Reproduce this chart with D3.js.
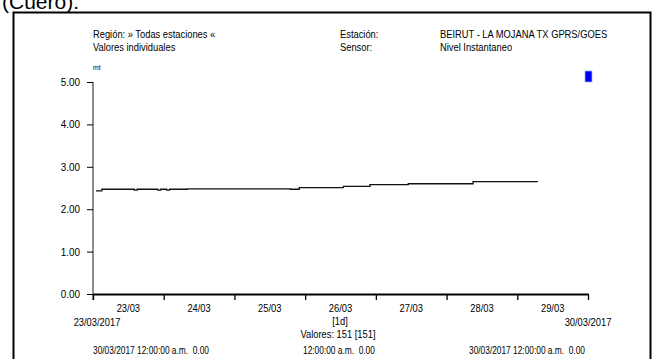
<!DOCTYPE html>
<html><head><meta charset="utf-8">
<script src="https://cdn.jsdelivr.net/npm/d3@7"></script>
<style>
body{margin:0;background:#fff;}
svg{display:block;}
.t{font-family:"Liberation Sans",Arial,sans-serif;font-size:11px;fill:#000;}
</style></head>
<body><svg id="c" width="665" height="359"></svg>
<script>
// ---- data ----
const startDate = "2017-03-23T00:00:00";
const endDate = "2017-03-30T00:00:00";
// hours after start of each recorded change, and the level (mt) from then on
const stepHours = [1, 3, 14, 15, 22, 23, 25, 26, 32, 67, 70, 85, 94, 107, 129, 151];
const stepValues = [2.43, 2.47, 2.45, 2.47, 2.45, 2.47, 2.45, 2.47, 2.48, 2.47, 2.51, 2.54, 2.58, 2.60, 2.65, 2.65];
const yTicks = [0, 1, 2, 3, 4, 5];
const dayLabels = ["23/03", "24/03", "25/03", "26/03", "27/03", "28/03", "29/03"];
const headerLeft = ["Región: » Todas estaciones «", "Valores individuales"];
const headerMid = ["Estación:", "Sensor:"];
const headerRight = ["BEIRUT - LA MOJANA TX GPRS/GOES", "Nivel Instantaneo"];
const unitLabel = "mt";
const startLabel = "23/03/2017";
const endLabel = "30/03/2017";
const intervalLabel = "[1d]";
const countLabel = "Valores: 151 [151]";
const footer = ["30/03/2017 12:00:00 a.m.  0.00", "12:00:00 a.m.  0.00", "30/03/2017 12:00:00 a.m.  0.00"];
const titleText = "(Cuero).";

// ---- drawing ----
const svg = d3.select("#c");
const t0 = new Date(startDate), t1 = new Date(endDate);
const x = d3.scaleTime().domain([t0, t1]).range([93, 588]);
const y = d3.scaleLinear().domain([0, 5]).range([294, 82]);

function label(px, py, s, anchor, sx, size) {
  const g = svg.append("g").attr("transform", `translate(${px},${py}) scale(${sx || 0.85},1)`);
  const t = g.append("text").attr("class", "t").attr("text-anchor", anchor || "start")
    .attr("xml:space", "preserve").style("white-space", "pre").text(s);
  if (size) t.attr("font-size", size).style("font-size", size + "px");
  return t;
}

svg.append("text").attr("x", 2).attr("y", 9).attr("font-family", "Liberation Sans, Arial, sans-serif")
  .attr("font-size", 21).text(titleText);

svg.append("rect").attr("x", 13.5).attr("y", 12.5).attr("width", 637).attr("height", 360)
  .attr("fill", "none").attr("stroke", "#000").attr("stroke-width", 2);

headerLeft.forEach((s, i) => label(93, 38 + i * 13, s));
headerMid.forEach((s, i) => label(340, 38 + i * 13, s));
headerRight.forEach((s, i) => label(440, 38 + i * 13, s));

svg.append("rect").attr("x", 585).attr("y", 71).attr("width", 7).attr("height", 11)
  .attr("fill", "#0000ff").attr("stroke", "#9fb4ff").attr("stroke-width", 0.7);

// y axis
const yAxis = svg.append("g").attr("transform", "translate(93,0)")
  .call(d3.axisLeft(y).tickValues(yTicks).tickFormat("").tickSize(6).tickSizeOuter(0));
yAxis.select(".domain").attr("stroke", "#666").attr("stroke-width", 1.5).attr("d", "M0,82V300");
yAxis.selectAll(".tick line").attr("stroke", "#000");
yTicks.forEach(v => label(80, y(v) + 4, d3.format(".2f")(v), "end", 0.9));
label(93, 70, unitLabel, "start", 0.85, 8);

// x axis
const days = d3.timeDay.range(t0, d3.timeDay.offset(t1, 1));
const xAxis = svg.append("g").attr("transform", "translate(0,294)")
  .call(d3.axisBottom(x).tickValues(days).tickFormat("").tickSize(6).tickSizeOuter(0));
xAxis.select(".domain").attr("stroke", "#000").attr("stroke-width", 2);
xAxis.selectAll(".tick line").attr("stroke", "#000").attr("stroke-width", 1.3);
dayLabels.forEach((s, i) => label(x(d3.timeHour.offset(t0, i * 24 + 12)), 312, s, "middle"));
label(x(t0) + 4, 326, startLabel, "middle");
label(x(t1), 326, endLabel, "middle");
label(340, 325, intervalLabel, "middle");
label(338, 338, countLabel, "middle");
[93, 303, 469].forEach((px, i) => label(px, 354, footer[i], "start", 0.76));

// line
const pts = stepHours.map((h, i) => ({ t: d3.timeHour.offset(t0, h), v: stepValues[i] }));
svg.append("path").datum(pts)
  .attr("fill", "none").attr("stroke", "#111").attr("stroke-width", 1.3)
  .attr("d", d3.line().x(d => x(d.t)).y(d => y(d.v)).curve(d3.curveStepAfter));
</script></body></html>
